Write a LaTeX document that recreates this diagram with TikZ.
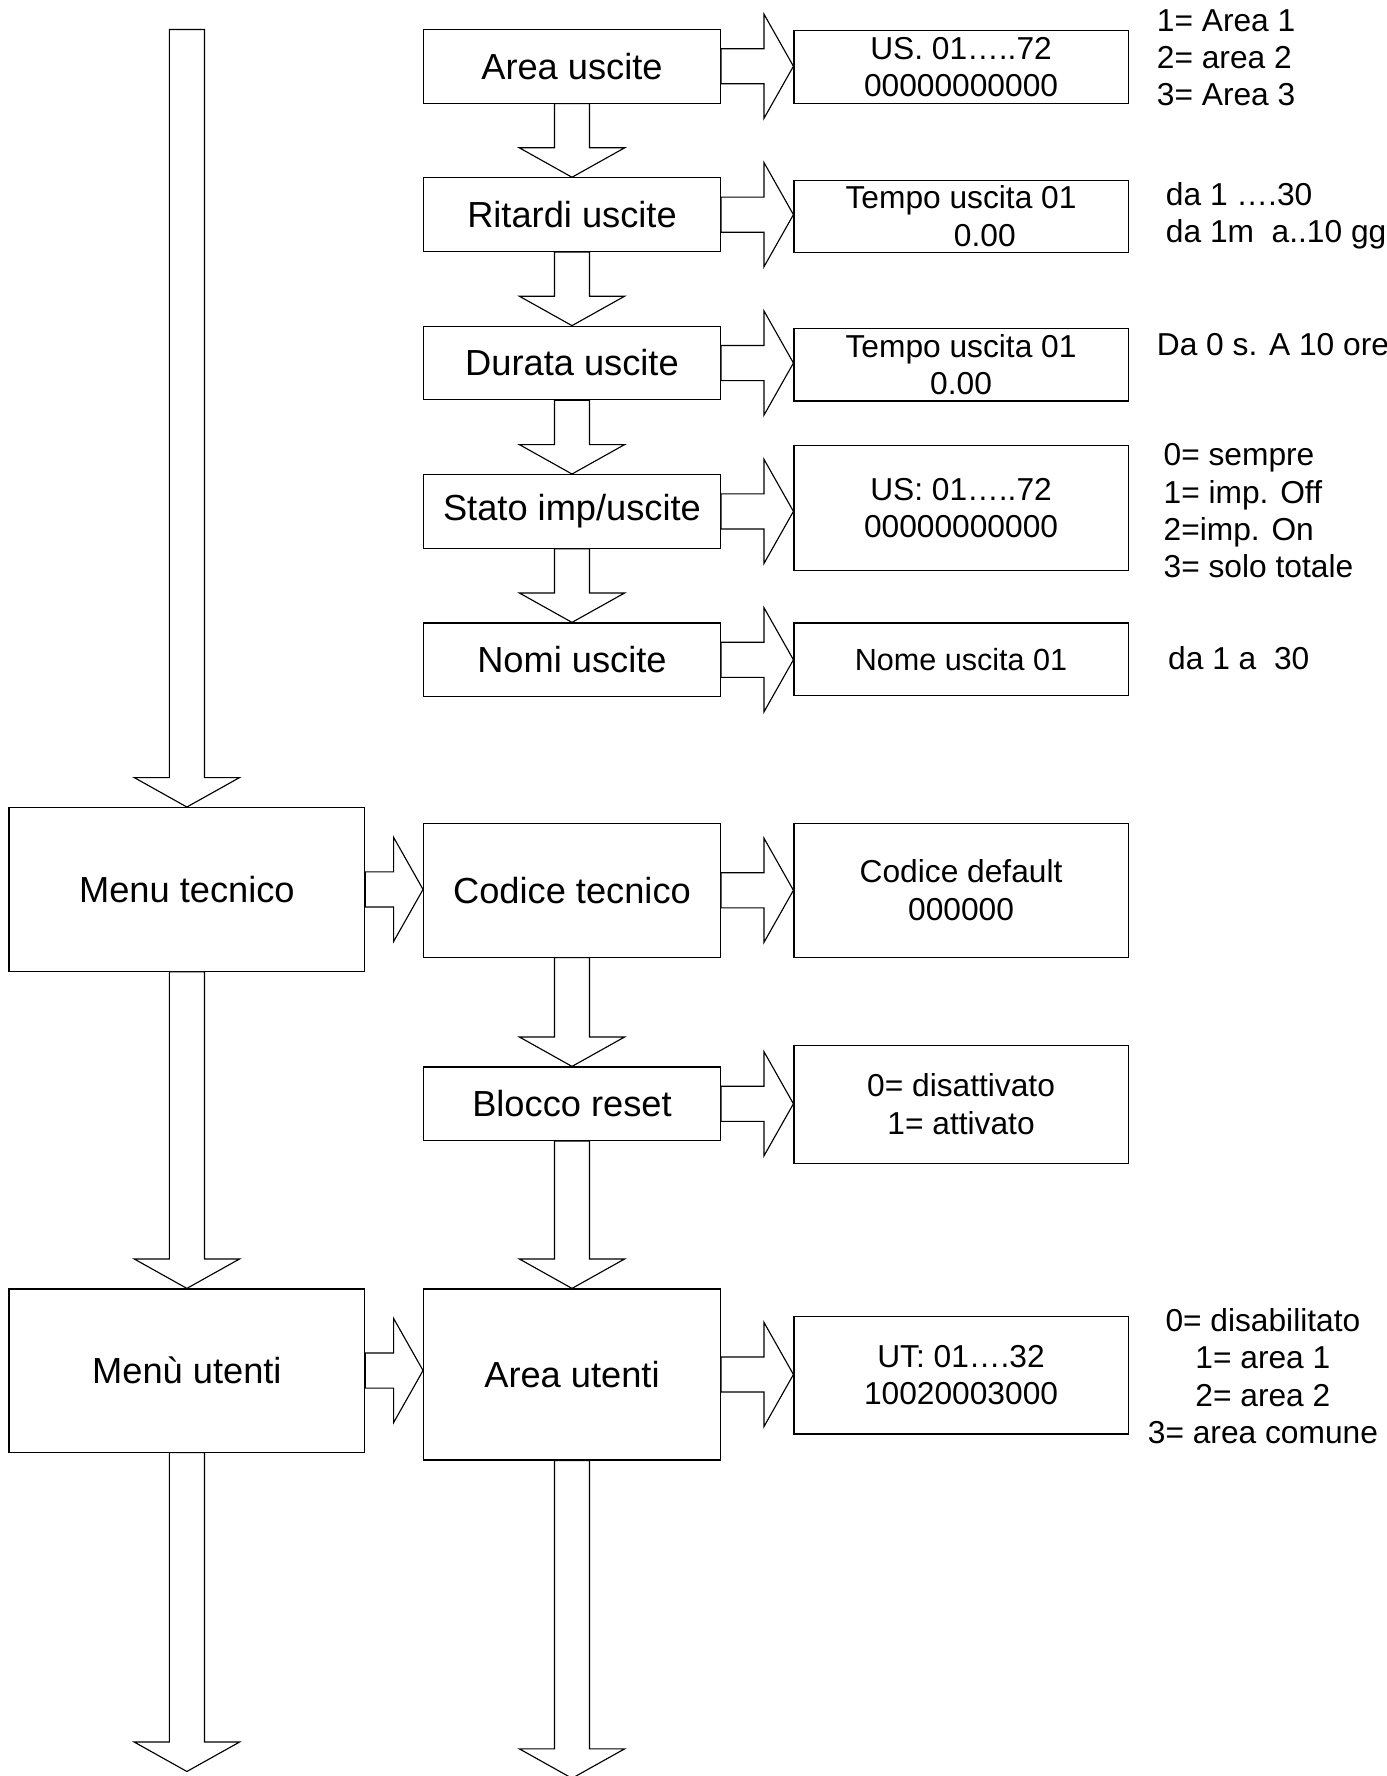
\documentclass[tikz,border=0pt]{standalone}
\usepackage{fontspec}
\setmainfont{Liberation Sans}
\usetikzlibrary{calc}

%% block arrow pointing down, from #1 (shaft start) to #2 (tip)
\newcommand{\blockdown}[2]{%
  \draw[blockarr] ($(#1)+(-15.5,0)$) -- ($(#2)+(-15.5,26)$) -- ($(#2)+(-46.5,26)$)
    -- (#2) -- ($(#2)+(46.5,26)$) -- ($(#2)+(15.5,26)$) -- ($(#1)+(15.5,0)$) -- cycle;}
%% block arrow pointing right, from #1 (east side) to #2 (west side)
\newcommand{\blockright}[2]{%
  \coordinate (arrtip) at (#1 -| #2);
  \draw[blockarr] ($(#1)+(0,15.5)$) -- ($(arrtip)+(-26,15.5)$) -- ($(arrtip)+(-26,46)$)
    -- (arrtip) -- ($(arrtip)+(-26,-46)$) -- ($(arrtip)+(-26,-15.5)$) -- ($(#1)+(0,-15.5)$) -- cycle;}

\begin{document}
\begin{tikzpicture}[
  x=0.5pt, y=0.5pt,
  menubox/.style={draw, line width=0.5pt, inner sep=0pt, align=center,
                  minimum width=157pt, font=\fontsize{16}{19}\selectfont},
  midbox/.style={draw, line width=0.5pt, inner sep=0pt, align=center,
                 minimum width=131pt, minimum height=32.5pt, font=\fontsize{16}{19}\selectfont},
  valbox/.style={draw, line width=0.5pt, inner sep=0pt, align=center,
                 minimum width=147.5pt, minimum height=32pt, font=\fontsize{14}{16.5}\selectfont},
  note/.style={inner sep=0pt, align=left, font=\fontsize{14}{16.5}\selectfont},
  blockarr/.style={draw, line width=0.5pt, fill=white, line join=miter},
]
\useasboundingbox (0,0) rectangle (1224,-1568);

%% Colonna sinistra: menu
\node[menubox, minimum height=72.25pt] (menutec) at (165,-785.25) {Menu tecnico};
\node[menubox, minimum height=72pt]    (menuut)  at (165,-1210)   {Menù utenti};

%% Colonna centrale
\node[midbox] (areaus)  at (505,-58.5)  {Area uscite};
\node[midbox] (ritardi) at (505,-189.5) {Ritardi uscite};
\node[midbox] (durata)  at (505,-320.5) {Durata uscite};
\node[midbox] (stato)   at (505,-451.5) {Stato imp/uscite};
\node[midbox] (nomi)    at (505,-582.5) {Nomi uscite};
\node[midbox, minimum height=59pt]   (codtec) at (505,-786)    {Codice tecnico};
\node[midbox]                        (blocco) at (505,-974.5)  {Blocco reset};
\node[midbox, minimum height=75.5pt] (areaut) at (505,-1213.5) {Area utenti};

%% Colonna destra: valori
\node[valbox] (usA)    at (848.5,-59)  {US. 01…..72\\00000000000};
\node[valbox] (tempoA) at (848.5,-191) {Tempo uscita 01\\\hspace*{21pt}0.00};
\node[valbox] (tempoB) at (848.5,-322) {Tempo uscita 01\\0.00};
\node[valbox, minimum height=55.5pt] (usB) at (848.5,-448.5) {US: 01…..72\\00000000000};
\node[valbox, font=\fontsize{13.5}{16}\selectfont] (nomeus) at (848.5,-582) {Nome uscita 01};
\node[valbox, minimum height=59pt] (coddef) at (848.5,-786)  {Codice default\\000000};
\node[valbox, minimum height=52pt] (disatt) at (848.5,-975)  {0= disattivato\\1= attivato};
\node[valbox, minimum height=52pt] (utval)  at (848.5,-1214) {UT: 01….32\\10020003000};

%% Note a destra
\node[note, anchor=west] (noteA) at (1021,-51)    {1= Area 1\\2= area 2\\3= Area 3};
\node[note, anchor=west] (noteB) at (1029,-190.5) {da 1 ….30\\da 1m\ \ a..10 gg};
\node[note, anchor=west] (noteC) at (1021,-304)   {Da 0 s. A 10 ore};
\node[note, anchor=west] (noteD) at (1027,-451)   {0= sempre\\1= imp. Off\\2=imp. On\\3= solo totale};
\node[note, anchor=west] (noteE) at (1031,-581)   {da 1 a\ \ 30};
\node[note, align=center] (noteF) at (1115,-1215) {0= disabilitato\\1= area 1\\2= area 2\\3= area comune};

%% Estremi liberi delle frecce
\coordinate (topL) at (165,-26);
\coordinate (endL) at (165,-1564);
\coordinate (endM) at (505,-1570);

%% Frecce verticali
\blockdown{topL}{menutec.north}
\blockdown{menutec.south}{menuut.north}
\blockdown{menuut.south}{endL}
\blockdown{areaus.south}{ritardi.north}
\blockdown{ritardi.south}{durata.north}
\blockdown{durata.south}{stato.north}
\blockdown{stato.south}{nomi.north}
\blockdown{codtec.south}{blocco.north}
\blockdown{blocco.south}{areaut.north}
\blockdown{areaut.south}{endM}

%% Frecce orizzontali
\blockright{areaus.east}{usA.west}
\blockright{ritardi.east}{tempoA.west}
\blockright{durata.east}{tempoB.west}
\blockright{stato.east}{usB.west}
\blockright{nomi.east}{nomeus.west}
\blockright{menutec.east}{codtec.west}
\blockright{codtec.east}{coddef.west}
\blockright{blocco.east}{disatt.west}
\blockright{menuut.east}{areaut.west}
\blockright{areaut.east}{utval.west}

\end{tikzpicture}
\end{document}
